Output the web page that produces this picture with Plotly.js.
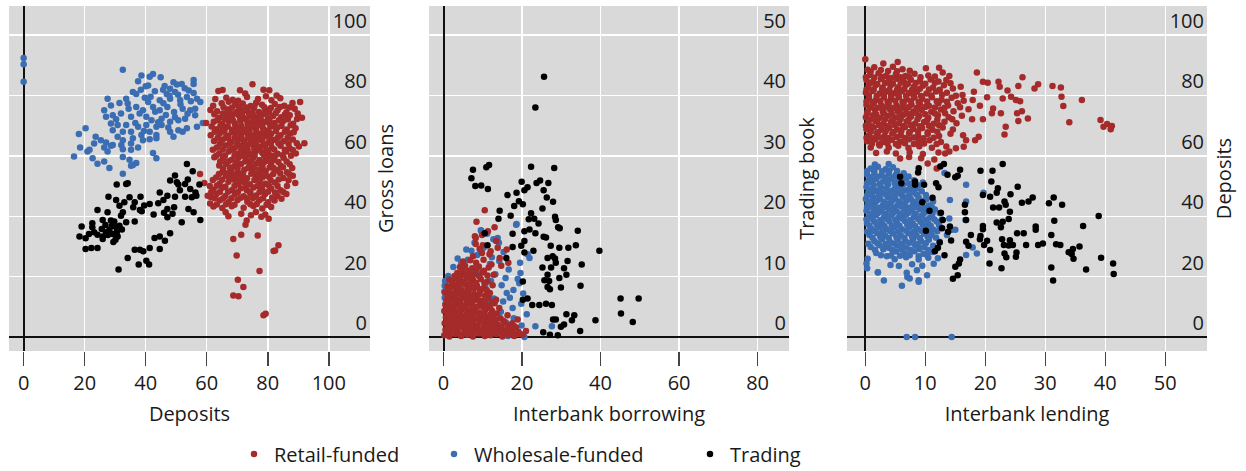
<!DOCTYPE html>
<html>
<head>
<meta charset="utf-8">
<script src="https://cdn.plot.ly/plotly-3.0.1.min.js"></script>
<style>html,body{margin:0;padding:0;background:#fff;}#chart{width:1246px;height:471px;}</style>
</head>
<body>
<div id="chart"></div>
<script>
// ---------- DATA ----------
const seriesNames = ["Retail-funded", "Wholesale-funded", "Trading"];
const xTitles = ["Deposits", "Interbank borrowing", "Interbank lending"];
const yTitles = ["Gross loans", "Trading book", "Deposits"];

// Panel 1: [deposits, gross loans]
const retailDepositsLoans = [
[75,83.7],[63.8,81.5],[70.9,81.7],[80.5,81.7],[82.9,80],[65.2,81.8],[78.6,81.9],[72.6,80.6],
[66.4,79.2],[68.5,78.6],[73.2,79.5],[76.8,78.8],[79.4,79.7],[81.2,78.4],[84.1,79.1],[70.3,78.2],[62.8,78.8],
[62.1,76.6],[64.9,77.4],[69.3,76.8],[71.8,77.3],[74.4,76.5],[76.2,77.6],[78.1,76.9],[82.3,77.2],[85.4,76.6],[88.1,77.5],[90.6,77.8],[67.2,77.9],
[63.4,74.8],[66.8,75.3],[69.9,74.6],[71.2,75.4],[73.3,74.9],[75.4,75.7],[77.1,74.5],[79.2,75.3],[80.4,74.7],[83.2,75.1],[86.1,74.4],[88.8,75.6],[61.2,75.2],
[64.2,72.6],[66.3,73.4],[68.1,72.8],[70.4,73.5],[72.2,72.5],[74.1,73.3],[76.3,72.7],[78.2,73.6],[80.1,72.4],[81.7,73.2],[84.4,72.8],[87.2,73.4],[91.2,72.6],[67.5,74.1],[73.8,74.2],[79.7,74.0],
[59.8,70.9],[62.3,71.3],[65.1,70.6],[67.3,71.5],[69.2,70.8],[71.1,71.6],[73.4,70.7],[75.2,71.4],[77.3,70.5],[79.1,71.2],[82.2,70.9],[85.1,71.5],[88.3,70.6],[83.6,71.8],[76.4,71.9],
[63.1,68.8],[66.2,69.4],[68.3,68.6],[70.2,69.3],[72.1,68.7],[74.3,69.5],[76.1,68.9],[78.4,69.2],[80.2,68.5],[83.1,69.4],[86.2,68.7],[89.1,69.1],[81.6,69.8],[69.4,70.1],
[61.3,66.8],[64.2,67.3],[67.1,66.6],[69.3,67.4],[71.2,66.9],[73.3,67.5],[75.1,66.7],[77.4,67.2],[79.2,66.6],[81.1,67.3],[84.2,66.8],[87.3,67.4],[72.5,68],[78.6,68.1],[65.8,68.0],
[62.4,64.9],[65.2,65.3],[68.1,64.6],[70.3,65.4],[72.2,64.8],[74.4,65.5],[76.2,64.7],[78.1,65.2],[80.3,64.6],[82.2,65.3],[85.1,64.8],[88.2,65.4],[92,64.2],[67.0,65.9],[76.8,65.9],
[63.3,62.8],[66.1,63.4],[69.2,62.7],[71.1,63.3],[73.2,62.6],[75.3,63.4],[77.2,62.9],[79.1,63.5],[81.3,62.7],[84.2,63.3],[87.1,62.6],[90.2,63.1],[70.0,64.0],[74.2,64.1],
[64.1,60.8],[67.2,61.4],[70.1,60.7],[72.3,61.3],[74.2,60.6],[76.1,61.5],[78.2,60.9],[80.1,61.2],[83.2,60.7],[86.1,61.4],[89.2,60.8],[68.6,62.0],[77.6,62.1],
[65.3,59.2],[68.2,58.7],[70.4,59.4],[73.1,58.8],[75.2,59.3],[77.3,58.6],[79.4,59.1],[82.1,58.7],[85.2,59.4],[71.8,60.0],[80.8,60.1],[62.5,59.5],
[64.1,56.8],[66.3,57.4],[69.1,56.6],[71.2,57.3],[74.1,56.7],[76.3,57.5],[78.2,56.9],[81.1,57.3],[84.3,56.6],[87.2,57.2],[72.6,58.1],[77.1,58.0],
[65.2,54.7],[68.1,55.3],[70.2,54.6],[72.3,55.4],[75.1,54.8],[77.2,55.5],[79.3,54.9],[83.2,55.2],[86.3,54.6],[73.6,56.0],[80.6,56.1],
[63.1,52.8],[66.2,53.4],[69.1,52.7],[71.3,53.3],[73.2,52.6],[76.1,53.5],[78.3,52.9],[80.2,53.2],[85.1,52.7],[88.2,53.4],[74.6,54.1],[67.8,54.0],
[59.2,51],[64.2,50.8],[67.1,51.4],[70.3,50.7],[72.2,51.3],[74.1,50.6],[77.3,51.4],[79.2,50.8],[82.3,51.2],[89,51],[75.6,52.0],[69,52.1],
[62.2,48.8],[65.1,49.4],[68.3,48.7],[71.2,49.3],[73.1,48.6],[75.3,49.5],[78.2,48.9],[81.1,49.2],[84.2,48.6],[76.6,50.0],
[60.3,46.8],[63.2,47.4],[66.1,46.7],[69.2,47.3],[72.1,46.6],[74.3,47.5],[76.2,46.9],[79.1,47.3],[83.2,46.7],[86.1,47.4],[61.3,46.4],
[61.1,44.2],[64.3,45.3],[67.2,44.7],[70.1,45.4],[73.3,44.8],[77.2,45.3],[80.1,44.6],[82.2,45.2],[75.2,46.0],
[62.2,43.2],[65.1,42.7],[68.2,43.3],[72.1,42.8],[75.3,43.4],[78.2,42.6],[81.1,43.1],
[66.2,41.3],[71.3,40.8],[76.1,41.4],[79.2,40.6],[80.3,39.2],[67.1,40],
[65.5,76.1],[68.2,75.9],[70.6,76.2],[73,76],[75.6,76.3],[78.9,76.1],[81,75.8],[84,76.2],[87,76],
[62.5,73.8],[65.3,74],[69.1,73.9],[71.6,74.1],[75.1,74],[77.6,73.9],[82.6,74.1],[85.6,73.7],[89.8,74],
[63.5,71.9],[66,72.1],[68.6,71.8],[71,72.1],[73.1,71.9],[75.3,72.2],[77.8,71.8],[80.5,72],[86.6,72.1],[89.6,72.2],
[61.6,69.7],[64.5,70],[66.9,69.8],[71.3,70],[73.5,69.9],[75.6,70.2],[78,70],[80.7,70.3],[84.5,69.9],[87.5,70.1],
[62.6,68],[64.9,68.1],[68.2,67.9],[70.4,68.2],[74,68.1],[76.3,68],[80.1,67.9],[82.7,68.2],[85.6,68],[88.5,67.8],
[63.6,66],[66.3,66.1],[69.2,65.9],[71.4,66.1],[73.6,66],[75.9,66.3],[78.3,66],[80.6,66],[83.4,66.2],[86.5,66],
[64.3,64],[67.5,64.1],[72.3,64],[76.2,64.1],[78.6,63.9],[81,64],[83.5,64.2],[86.8,64],[89.5,64.2],
[62,62],[65.2,62.1],[67.8,62.2],[71.3,62],[73.4,61.9],[75.6,62.2],[79.6,62],[82.1,62.1],[85.6,62],[88.2,61.9],
[63.1,60],[66,60.1],[69.1,60],[73.2,60.2],[75.7,60],[78.8,60.1],[82.4,60],[84.8,60.2],[87.6,60],
[64.4,58.1],[67.1,58.2],[69.8,57.9],[74.4,58],[78.9,58],[80.6,58.2],[83.5,58],[86.2,58.1],
[65.4,55.8],[67.6,56.1],[70.1,56],[75.4,56.1],[78.3,55.9],[81.9,56],[85,56.2],[88,56],
[64,54],[66.8,54.2],[69.6,53.9],[71.9,54.1],[76.8,54],[78.6,54.1],[81.8,54],[84.1,54.2],[87,54],
[62,52],[65,52.1],[67.6,52.3],[70.5,51.9],[72.6,52],[77.3,52.1],[80.9,52],[83.6,52.2],[86.8,51.9],
[61,50],[63.3,50.1],[66.1,49.8],[69.1,50],[73,50.1],[78.1,49.9],[80.4,50.1],[83.2,50],[86.3,50],
[61.5,48],[64.3,48],[67,48.1],[70.2,48],[74.2,48.1],[77.3,48],[80.1,48.1],[82.4,47.9],[85.1,48],
[62.6,46],[65.3,45.9],[68.1,46],[71.1,46.1],[73.2,45.9],[78.4,46],[81.4,46.1],[84.5,45.8],
[63.3,43.9],[66.3,44],[69.1,43.8],[74.3,44],[76.4,44.1],[79.6,43.8],
[57.8,54],[68.7,32.5],[71.3,33.9],[76.7,33.6],[69.8,27],[72.7,37.2],[73.1,38.6],[77.3,21.9],[70.2,19],[72,16.6],
[68.7,13.8],[70.4,13.5],[79.3,7.7],[78.6,7.2],[82.4,28.7],[83.5,30.4],[81.9,28.5],[77.9,39.8],[74.5,40.3]
];
const wholesaleDepositsLoans = [
[0,92.4],[0,90.3],[0,84.5],
[32.5,88.5],[38.6,86.6],[41.3,86.2],[42.4,87.1],[44.9,86],[37.5,84.7],[40,83],[40.8,83.3],[49.1,84.4],[50.2,83.6],[51.8,83.8],[55.7,85.1],[55.7,83.8],
[35.8,81.1],[36.9,80.5],[43,81.4],[45.7,81.9],[46.9,80.5],[48,82.2],[49.6,81.1],[54.1,81.6],[55.7,80.8],[33.6,78.9],[39.7,79.2],[40.8,77.8],[44.6,78.4],
[48,78.9],[51.3,78.4],[53.5,79.5],[56.8,78.9],[57.9,77.8],[27.5,78.9],[28.6,76.7],[31.4,77.5],[34.1,77.3],[36.9,76.2],[39.1,75.1],[42.4,76.2],[44.6,75.1],
[47.1,76.2],[49.3,74.5],[52.1,75.6],[54.6,75.1],[56.2,75.6],[26.4,75.1],[27,72.9],[29.2,73.4],[31.9,74],[35.2,72.9],[38,74],[40.2,72.9],[41.9,71.8],
[45.2,72.3],[48,71.3],[50.7,71.8],[52.9,72.3],[56.2,73.4],[58.7,70.9],[28.6,70.7],[30.8,70.2],[33.6,70.2],[37.5,69.6],[40.2,70.2],[43.5,69.6],[45.2,70.2],
[50.7,68.5],[53.5,69.1],[56.8,69.6],[29.2,68.5],[32.5,68],[35.2,68],[38.6,66.9],[41.3,68],[43.5,66.9],[48,68],[49.1,66.3],[52.1,68],[18.1,67.2],[20.3,69.1],
[23.6,66.3],[25.3,65.2],[30.8,66.3],[32.5,65.2],[35.8,65.8],[39.1,65.2],[41.3,65.5],[43.5,65.8],[23.1,64.1],[27,64.4],[29.2,63.6],[32,63.6],[35.2,64.1],
[37.5,62.8],[18.5,62.8],[21.6,62],[26.4,62.8],[28.6,63.3],[32.5,62.2],[35.2,62],[16.5,59.8],[20.9,61.4],[22.6,59.2],[27.5,61.4],[32.5,59.6],[34.7,58.7],
[35.8,57],[24.2,57.4],[26.4,58.1],[28.1,56],[42.4,60.9],[43.5,59.2],[32.5,54.1],[36.9,57.6],[35.2,56.7],
[46.2,83.1],[47.8,79.9],[50.6,80.2],[52.8,82.4],[54.8,78.1],[45.8,77.4],[43.1,74.6],[46.6,73.5],[49.6,72.8],[51.4,77.1],[53.7,73.9],[41.6,79.6],
[38.4,81.9],[44.1,71.1],[47.4,69.4],[39.4,68.2],[36.6,70.9],[34.4,75.6],[30.3,72.1]
];
const tradingDepositsLoans = [
[53.5,57.3],[55.4,54.9],[49.6,53.5],[34.1,50.9],[33.6,50.7],[30.5,50.5],[48,51.8],[50.2,51.3],[52.9,50.7],[50.7,50.5],[57.6,50.5],[54.6,49],
[56.3,47.9],[56.6,46.8],[44.6,47.9],[47.1,46.8],[49.6,46.5],[52.9,46.5],[55.1,46.3],[27.8,46.5],[34.7,46.3],[38.3,46.5],[30.3,45.4],[33,44.6],
[36.4,44.6],[31.4,43.5],[41.3,44.1],[44.1,44.3],[35.9,43],[38.1,42.1],[38.7,41.7],[47.1,42.4],[49.3,43],[54,42.4],[55.7,41.3],[24.2,42.1],
[27.5,41.3],[32.5,41.3],[31.9,40.2],[47.1,39.7],[48.8,40.8],[57.9,38.8],[51.8,38],[36.4,38.3],[33.6,38],[25.9,38.8],[28.6,38.6],[29.7,38.3],
[31.4,36.9],[30.3,36.4],[22.5,37.7],[22.5,36.4],[19,36.6],[25.6,35.8],[27,34.7],[23.1,34.7],[24.2,33.9],[28.1,35.5],[29.2,34.1],[30.5,34.7],
[30.8,33.3],[25.9,33.3],[25.9,32.5],[18.3,33.3],[20.3,32.7],[30.1,32.2],[48,34.4],[44.6,33.3],[42.9,32.8],[46.3,31.9],[41.3,29.5],[44.6,29.2],
[20.3,29.2],[22.2,29.5],[24.2,29.5],[36.4,28.9],[38.1,28.9],[39.2,28.4],[34.1,26.2],[40.2,25.3],[41.1,24],[37.7,24],[31.1,22.4],
[26.8,37.1],[28.9,36.8],[27.6,33.8],[29.4,31.5],[32.2,35.6],[21.4,34.1],[39.5,43.6],[45.8,45.4],[51.2,48.6],[53.8,52.2],[42.6,40.6],[46,41.2]
];

// Panel 2: [interbank borrowing, trading book]
const retailBorrowingTrading = [
[0.2,0.3],[1.5,0.1],[3,0.5],[4.5,0.2],[6,0.4],[7.5,0.1],[9,0.6],[10.5,0.2],[12,0.3],[13.5,0.5],[15,0.1],[16.5,0.4],[18,0.2],[19.5,0.5],[21,1],[20.2,0.4],
[0.5,1.2],[2,1.4],[3.5,1.1],[5,1.5],[6.5,1.2],[8,1.3],[9.5,1.0],[11,1.4],[12.5,1.2],[14,1.5],[15.5,1.1],[17,1.3],[18.5,1.6],
[0.3,2.3],[1.8,2.1],[3.3,2.5],[4.8,2.2],[6.3,2.4],[7.8,2.0],[9.3,2.6],[10.8,2.2],[12.3,2.4],[13.8,2.1],[15.5,2.5],[17.5,2.3],[18.9,2.9],
[0.6,3.3],[2.1,3.1],[3.6,3.5],[5.1,3.2],[6.6,3.4],[8.1,3.0],[9.6,3.6],[11.1,3.2],[12.6,3.4],[14.5,3.1],[16.3,3.6],
[0.2,4.3],[1.7,4.5],[3.2,4.1],[4.7,4.6],[6.2,4.2],[7.7,4.4],[9.2,4.0],[10.7,4.5],[12.4,4.3],[14.2,4.8],
[0.5,5.3],[2,5.1],[3.5,5.5],[5,5.2],[6.5,5.6],[8,5.0],[9.5,5.4],[11,5.2],[13,5.6],
[0.8,6.3],[2.3,6.5],[3.8,6.1],[5.3,6.6],[6.8,6.2],[8.3,6.4],[9.8,6.0],[11.5,6.5],[13.4,6.2],
[0.4,7.4],[1.9,7.2],[3.4,7.6],[4.9,7.3],[6.4,7.5],[7.9,7.1],[9.4,7.7],[11.8,7.3],
[1,8.4],[2.5,8.6],[4,8.2],[5.5,8.7],[7,8.3],[8.5,8.5],[10.2,8.1],[12.5,8.6],
[1.5,9.5],[3,9.7],[4.5,9.3],[6,9.8],[7.5,9.4],[9.5,9.6],[11.2,9.2],
[3.5,10.6],[5,10.4],[6.5,10.8],[8,10.5],[10,10.7],[12.8,10.3],
[4.2,11.6],[5.5,11.8],[7.3,11.4],[9,11.7],[11.5,11.5],[14.7,11.8],
[5,12.5],[6.8,12.7],[8.3,12.3],[10.2,12.8],[12.2,12.0],
[7.5,13.4],[9.8,13.9],[11.7,13.7],[14.3,13.1],
[9.2,14.6],[13.8,14.8],[16.1,14.5],[12,14.2],[10,15.2],
[0.9,0.7],[2.4,0.8],[3.9,0.6],[5.4,0.9],[6.9,0.7],[8.4,0.8],[9.9,0.6],[11.4,0.9],[12.9,0.7],[14.4,0.9],[16,0.7],[17.5,0.8],[19.1,0.9],
[1.1,1.8],[2.7,1.7],[4.2,1.9],[5.7,1.7],[7.2,1.8],[8.7,1.8],[10.2,1.7],[11.7,1.9],[13.2,1.8],[14.8,1.7],[16.4,1.9],[18,1.8],
[1.2,2.8],[2.7,2.7],[4.2,2.9],[5.7,2.8],[7.2,2.7],[8.7,2.9],[10.2,2.8],[11.7,2.7],[13.3,2.9],[15.2,2.7],
[1.3,3.8],[2.8,3.7],[4.3,3.9],[5.8,3.8],[7.3,3.7],[8.8,3.9],[10.3,3.8],[11.9,3.7],[13.6,3.9],
[1.1,4.9],[2.6,4.8],[4.1,5],[5.6,4.9],[7.1,4.8],[8.6,5],[10.1,4.9],[11.9,4.8],
[1.3,5.9],[2.8,5.8],[4.3,6],[5.9,5.9],[7.4,5.8],[8.9,6],[10.5,5.9],[12.3,5.8],
[1.5,6.9],[3,6.8],[4.5,7],[6,6.9],[7.5,6.8],[9,7],[10.6,6.9],
[1.4,7.9],[3,8],[4.6,7.8],[6.1,7.9],[7.7,8],[9.2,7.9],[11,7.8],
[2.2,9],[3.8,9],[5.3,9.1],[6.8,8.9],[8.3,9],[10.4,9],
[2.8,10.1],[4.3,10],[5.8,10.1],[7.3,9.9],[9,10.1],[11.2,10.2],
[4.8,11.1],[6.3,11],[8.2,11.1],[10.3,11],
[10.5,21],[8.4,19.1],[8,16.7],[8.2,16.4],[13,18.2],[13.4,15.9],[16.5,12.3],[9.8,16.9],[11.3,17.5],[8.2,15.4]
];
const wholesaleBorrowingTrading = [
[18.5,18.6],[9.6,17.6],[11.1,17.1],[13.8,16.4],[5.8,14.5],[7.1,14.3],[3.6,13],[21.4,13.7],[21.9,13.1],[19.5,12.3],[16.6,11.2],[18.9,9.6],
[19.3,8.9],[15.8,9.8],[16.1,7.3],[16.9,6.5],[19.8,5.5],[17.6,4.8],[21.2,3.8],[23.4,1.8],[27.6,1.8],[20.6,0],[0.3,8.5],[0.3,6.5],[0.2,7.5],
[0.5,5.5],[0.4,9.3],[1.2,10.1],[2.5,11.6],[4.5,12.3],[6.2,12.8],[8.6,13.6],[10.2,14.8],[12.3,13.2],[14.2,12.6],[15.3,14.1],[13.2,10.4],
[14.8,8.6],[12.8,6.4],[14.6,4.2],[15.9,2.4],[17.3,1.2],[18.6,0.5],[16.4,0.2],[13.4,0.8],[11.2,5.6],[10.6,8.6],[12.1,9.3],[15.2,5.9],
[17.8,7.8],[19.6,10.6],[20.3,7.2],[17.9,3.1],[19.9,1.9],[8.1,11.4],[6.7,10.5],[3.9,8.6],[2.1,6.9],[1.4,3.8],[11.8,12.1],[9.2,10.8],
[14.1,15.6],[12.7,16.2],[7.9,15.6],[18.6,18.7],[9.5,17.7]
];
const tradingBorrowingTrading = [
[25.6,43.1],[23.4,38],[7.5,27.7],[10.9,28.1],[11.6,28.5],[7.1,26.3],[8.1,25],[9.6,25.1],[11.3,24.5],[22.3,28.2],[28.2,28],[19.9,25.7],
[21.4,24.8],[20.6,24.3],[23.7,25.5],[24.6,25.9],[26.7,25.5],[25.5,24.3],[27.9,22.4],[26.3,23.1],[18.6,23.9],[16.3,23.5],[19.2,22.5],[20.2,22],
[18,21.7],[25.2,21.3],[14.3,20.9],[14,19.6],[17.1,20.1],[22.3,20.5],[21.7,19.5],[23.1,19.6],[28.4,19.9],[28.6,19.4],[24.2,18.8],[21.9,17.8],
[23.4,17.2],[29.2,18.2],[29.6,18],[34.2,17.6],[17.6,17.1],[20.6,17.5],[25.5,16.6],[26.1,16.5],[20.6,15.9],[17.6,14.9],[19.8,15.1],[22.9,14.3],
[20.6,14],[27.3,15.1],[29.5,14.8],[31.8,14.8],[33.7,15.2],[39.7,14.3],[26.5,13.1],[27.8,13.4],[28.4,13],[31.6,12.6],[35.2,12],[25.2,11.5],
[27.4,11.5],[28.6,12.3],[30.7,11.4],[26.5,10.3],[25.7,9.4],[31.3,10.3],[26.9,9.3],[29.5,9.8],[29.9,8.2],[26.5,8.3],[27.1,7.9],[34.9,8.5],
[20.2,6.2],[21.4,6.4],[22.6,5.3],[24.4,5.3],[26.1,5.5],[27.6,5.3],[45.1,6.4],[49.7,6.4],[45.2,3.9],[48.2,2.5],[38.7,2.8],[31.3,3.8],
[33.3,3.6],[32.7,2.8],[27.9,2.9],[28.6,2.9],[30.7,2.1],[29.9,1.7],[25.4,0.8],[27.1,0.4],[29.1,0.3],[34.8,1],[10.5,17.2],[16,13.1],[20.2,9.2],[11.2,15.2]
];

// Panel 3: [interbank lending, deposits]
const retailLendingDeposits = [
[0,92],[5.4,91.1],[3,90.6],[10.1,89],[12.3,89.2],[0.4,88.5],[1.5,89.3],[3.8,88.1],[6.2,88.7],[4.6,89.5],
[12.9,87.6],[18.6,87.6],[0.8,86.8],[2.2,87.3],[3.5,86.5],[5.1,87.1],[6.7,86.4],[8.2,87.2],[14,86.4],[10.5,86.6],
[0.2,85.1],[1.3,84.6],[2.6,85.4],[3.9,84.8],[5.2,85.5],[6.4,84.5],[7.6,85.2],[9.1,84.7],[10.9,85.3],[12.2,84.6],[13.5,85.1],
[0.5,82.8],[1.7,83.4],[2.9,82.6],[4.2,83.3],[5.5,82.7],[6.8,83.5],[8.1,82.9],[9.6,83.2],[11.3,82.6],[13.1,83.4],[15.9,82.9],[19.6,84.5],[20.4,84.2],
[22.2,84.5],[22.4,82.9],[25.5,83.1],[26.2,86],[28.2,82.3],[28.8,83.7],[31.2,83.1],[32.6,82.6],
[0.1,80.9],[1.2,81.5],[2.4,80.6],[3.6,81.3],[4.8,80.7],[6.1,81.4],[7.3,80.8],[8.6,81.2],[10.2,80.6],[11.8,81.3],[13.6,80.9],[16.2,80.1],[23.7,81.6],[18.1,81.2],
[0.6,79.2],[1.8,78.6],[3.1,79.4],[4.3,78.8],[5.6,79.5],[6.9,78.7],[8.2,79.3],[9.5,78.9],[11.1,79.4],[12.7,78.6],[14.4,79.2],[17.9,78.5],[22.9,79],
[24.3,79.6],[25.1,78.5],[25.8,78.1],[32.7,79.6],[36.1,78.5],[20.3,79.4],
[0.2,76.8],[1.4,77.4],[2.7,76.6],[3.9,77.3],[5.2,76.7],[6.4,77.5],[7.7,76.9],[9.1,77.2],[10.6,76.6],[12.2,77.4],[13.8,76.7],[15.4,77.4],[19.1,76.6],[33,76.5],
[0.4,74.7],[1.6,75.3],[2.9,74.6],[4.1,75.4],[5.4,74.8],[6.7,75.5],[8,74.7],[9.4,75.2],[11,74.6],[12.6,75.3],[14.7,74.8],[17.2,75.4],[21.3,75.7],
[21.1,74.1],[22.6,74.1],[25.3,74.1],[26.1,74.8],
[0.1,72.8],[1.3,73.4],[2.5,72.6],[3.8,73.3],[5.1,72.7],[6.3,73.5],[7.6,72.9],[9,73.2],[10.5,72.6],[12.1,73.4],[13.9,72.8],[16.1,73.3],[17.8,72.1],[19.6,72.1],[27.1,72.4],
[0.5,70.9],[1.7,71.5],[3,70.6],[4.3,71.3],[5.6,70.8],[6.9,71.4],[8.3,70.7],[9.8,71.2],[11.4,70.6],[13.2,71.3],[15.2,70.8],[25.5,71.5],[34,71.1],[39.2,71.9],
[0.2,68.8],[1.4,69.4],[2.7,68.6],[4,69.3],[5.3,68.7],[6.6,69.5],[8,68.9],[9.5,69.2],[11.2,68.6],[12.9,69.4],[14.6,68.7],[23.4,69.6],[39.7,69.6],[40.3,70.5],[41.1,69.9],[40.9,68.8],
[0.6,66.7],[1.9,67.3],[3.2,66.6],[4.5,67.4],[5.9,66.8],[7.3,67.5],[8.8,66.7],[10.4,67.2],[12.3,66.6],[14.2,67.3],[16.3,66.8],[23.2,67.1],[18.9,66.3],
[0.3,64.8],[1.6,65.4],[3,64.6],[4.4,65.3],[5.8,64.7],[7.3,65.5],[8.9,64.9],[10.7,65.2],[12.6,64.6],[16.8,65.2],[18.3,65.2],
[0.9,62.8],[2.4,63.4],[3.9,62.7],[5.5,63.3],[7.2,62.6],[9,63.2],[11.1,62.7],[13.5,63.1],[16.4,63],[15.1,62.5],
[1.8,60.9],[3.6,61.4],[5.1,60.8],[7.4,61.2],[9.6,60.6],[12.2,61.1],[14,61.4],[13.3,60.8],
[5.8,59.1],[9.3,59.2],[11.5,58.8],[7.3,59.6],[10.4,57.5],[11.9,55.8],
[0.9,87.9],[2.6,88.4],[5.3,88],[7.4,88.2],
[0.1,86],[1.5,85.9],[2.9,86.1],[4.3,85.8],[5.9,86],[7.3,86.1],[9.2,86],[11.6,86.3],
[0.7,84],[2,83.8],[3.3,84.1],[4.6,83.9],[5.9,84.2],[7.1,83.9],[8.4,84.1],[10,83.9],[11.6,84.2],[14.2,84],
[0.2,82],[1.4,81.9],[2.8,82.1],[4,81.8],[5.3,82],[6.5,82.1],[7.8,81.9],[9.1,82.2],[10.6,82],[12.4,81.9],[14.6,82.3],
[0.6,80],[1.9,79.8],[3.1,80.1],[4.3,79.9],[5.5,80.2],[6.8,79.9],[8,80.1],[9.3,79.8],[11,80],[12.8,80.2],[15.1,79.9],
[0.2,78],[1.2,77.8],[2.5,78.1],[3.7,77.9],[5,78.2],[6.2,77.9],[7.6,78.1],[8.9,77.8],[10.3,78],[11.9,78.1],[13.6,77.9],[16.4,78.2],
[0.9,76],[2.1,75.9],[3.4,76.1],[4.6,75.8],[5.9,76],[7.2,76.1],[8.6,75.9],[10,76.2],[11.6,76],[13.2,75.9],[15.8,76.1],
[0.3,74],[1.8,73.8],[3.1,74.1],[4.4,73.9],[5.8,74.2],[7.1,73.9],[8.5,74.1],[10,73.8],[11.6,74],[13.3,74.1],
[0.8,72],[2,71.8],[3.3,72.1],[4.6,71.9],[5.9,72.2],[7.2,71.9],[8.7,72.1],[10.3,71.8],[12,72],[14.5,72.1],
[0.1,70],[1.1,69.8],[2.3,70.1],[3.6,69.9],[4.9,70.2],[6.3,69.9],[7.6,70.1],[9.1,69.8],[10.6,70],[12.3,70.1],
[0.9,68],[2.1,67.8],[3.4,68.1],[4.7,67.9],[6,68.2],[7.4,67.9],[8.8,68.1],[10.4,67.8],[12,68],
[0.2,66],[1.2,65.8],[2.4,66.1],[3.8,65.9],[5.2,66.2],[6.6,65.9],[8.1,66.1],[9.7,65.8],[11.4,66],
[1.1,64],[2.3,63.8],[3.7,64.1],[5.1,63.9],[6.6,64.2],[8.1,63.9],[9.8,64.1],[11.9,63.9]
];
const wholesaleLendingDeposits = [
[0.9,55.8],[2.1,56.4],[3.4,55.6],[4.6,56.2],[1.6,57.1],[3.9,57.3],
[0.3,53.8],[1.5,54.4],[2.7,53.6],[3.9,54.3],[5.1,53.7],[6.4,54.2],[13.2,54.3],
[0.6,51.8],[1.8,52.4],[3.0,51.6],[4.3,52.3],[5.5,51.7],[6.8,52.5],[8.1,51.9],
[0.2,49.7],[1.4,50.3],[2.6,49.6],[3.8,50.4],[5.1,49.8],[6.3,50.5],[7.6,49.7],[8.9,50.2],[16.8,50.4],
[0.5,47.8],[1.7,48.4],[2.9,47.6],[4.2,48.3],[5.4,47.7],[6.7,48.5],[8.0,47.9],[9.4,48.3],[19.7,47.8],
[0.1,45.7],[1.3,46.3],[2.5,45.6],[3.8,46.4],[5.0,45.8],[6.3,46.5],[7.6,45.7],[8.9,46.2],[10.2,45.6],[14.1,45.4],
[0.4,43.8],[1.6,44.4],[2.9,43.6],[4.1,44.3],[5.4,43.7],[6.6,44.4],[7.9,43.8],[9.2,44.2],[10.6,43.6],[16.8,44.9],
[0.2,41.8],[1.5,42.4],[2.7,41.6],[4.0,42.3],[5.2,41.7],[6.5,42.4],[7.8,41.8],[9.1,42.3],[10.4,41.7],[11.6,42.2],
[0.6,39.8],[1.8,40.4],[3.1,39.6],[4.3,40.3],[5.6,39.7],[6.8,40.5],[8.1,39.8],[9.4,40.2],[10.8,39.6],[14,39.3],[16.7,38.8],
[0.3,37.7],[1.5,38.3],[2.8,37.6],[4.0,38.4],[5.3,37.8],[6.6,38.4],[7.9,37.7],[9.2,38.2],[10.5,37.6],[11.9,38.3],
[1.0,35.8],[2.3,36.4],[3.6,35.6],[4.8,36.3],[6.1,35.7],[7.4,36.5],[8.7,35.8],[10.0,36.3],[11.3,35.6],[12.6,36.2],[14.4,35.5],[15,35.5],
[0.7,33.8],[2.0,34.4],[3.3,33.6],[4.6,34.3],[5.9,33.7],[7.2,34.4],[8.5,33.8],[9.8,34.2],[11.1,33.7],[13.6,33.8],
[1.5,31.8],[2.8,32.4],[4.1,31.6],[5.4,32.3],[6.7,31.7],[8.0,32.4],[9.3,31.8],[10.6,32.2],[12.4,31.6],
[0.9,29.8],[2.4,30.4],[3.9,29.6],[5.3,30.3],[6.8,29.7],[8.3,30.5],[9.8,29.8],[11.3,30.2],[17.9,29.7],
[1.8,27.8],[3.6,26.8],[5.1,28.3],[6.6,27.7],[8.2,28.4],[9.7,27.6],[11.2,28.2],[18.6,27.7],[16.8,27.2],
[0.4,25.9],[4.9,25.8],[6.8,26.4],[8.9,25.7],[10.5,26.3],[12.1,26.1],
[0.2,24.4],[4.2,23.9],[5.6,23.5],[7.8,24.1],[9.5,23.6],[11.4,24.3],
[0.3,22.8],[2.1,21.4],[6.9,21.3],[8.6,22.1],[10.3,20.5],
[7.4,19.4],[8.9,18.3],[3.1,18.7],[6.1,17],[7,19.9],[8.9,18.8],[2.1,21.5],
[0.3,55],[1.5,55.2],[2.8,54.9],[4,55.1],[5.3,55],
[0.9,52.9],[2.1,53.1],[3.4,52.8],[4.7,53],[5.9,52.9],[7.2,53.2],
[0.3,50.9],[1.2,51.1],[2.4,50.8],[3.6,51],[4.9,50.9],[6.1,51.2],[7.3,50.8],[9.6,51.2],
[1.1,49],[2.3,48.8],[3.5,49.1],[4.8,48.9],[6,49.1],[7.2,48.8],[8.5,49.2],
[0.3,46.9],[1.1,47.1],[2.3,46.8],[3.5,47],[4.7,46.9],[6,47.2],[7.3,46.8],[8.6,47.1],[10.1,47],
[0.8,44.9],[1.9,45.1],[3.2,44.8],[4.4,45],[5.7,44.9],[6.9,45.2],[8.3,44.8],[9.7,45.1],[11.3,44.9],
[0.3,42.9],[1.1,43.1],[2.3,42.8],[3.5,43],[4.8,42.9],[6,43.2],[7.2,42.8],[8.6,43.1],[9.9,42.9],[11.1,43],
[1,40.9],[2.1,41.1],[3.4,40.8],[4.6,41],[5.9,40.9],[7.2,41.2],[8.4,40.8],[9.8,41.1],[11.2,40.9],[12.4,41],
[0.2,38.9],[1.2,39.1],[2.5,38.8],[3.7,39],[5,38.9],[6.2,39.2],[7.5,38.8],[8.8,39.1],[10.1,38.9],[11.5,39],[12.8,38.9],
[0.7,36.9],[1.9,37.1],[3.2,36.8],[4.4,37],[5.7,36.9],[7,37.2],[8.3,36.8],[9.6,37.1],[10.9,36.9],[12.3,37],
[0.3,34.9],[1.5,35.1],[2.9,34.8],[4.2,35],[5.5,34.9],[6.8,35.2],[8,34.8],[9.4,35.1],[10.7,34.9],[12,35],
[1.2,32.9],[2.5,33.1],[3.9,32.8],[5.2,33],[6.5,32.9],[7.8,33.2],[9.1,32.8],[10.4,33.1],[11.8,32.9],
[0.5,30.9],[2,31.1],[3.4,30.8],[4.7,31],[6.1,30.9],[7.4,31.2],[8.8,30.8],[10.1,31.1],
[1.6,28.9],[3,29.1],[4.5,28.8],[6,29],[7.5,28.9],[9,29.2],[10.5,28.8],
[2.6,27.1],[4.3,27],[5.8,26.9],[7.4,27.1],[8.9,26.8],[10.3,27.2],
[6.9,0],[8.3,0],[14.4,0]
];
const tradingLendingDeposits = [
[22.9,57.3],[19.2,55.1],[21.2,55.1],[15.8,55.4],[15.4,53.4],[15,52.9],[12.5,56.5],[13.1,57.3],[8.9,55.9],[8.8,54.5],[13.7,53.7],[5.8,53.1],
[6,50.9],[8.3,51.5],[8.3,50.4],[9.8,50.4],[11.8,50.9],[12.2,49.6],[21,51.5],[22.1,49.3],[21.9,47.8],[25.4,49.8],[24.2,47.3],[19.6,47],
[20.8,46.5],[23.2,44.9],[23.4,43.8],[21.3,42.9],[22.3,42.9],[26.1,44.5],[27.2,44.9],[27.9,46.2],[30.6,44.3],[31.4,46.2],[32.8,43.8],[24.1,41.5],
[23.9,39.1],[21.9,37.9],[22.9,38.2],[22.6,36.4],[16.6,43.8],[16.6,41.3],[16.8,38.8],[12.6,41.2],[12.9,38.8],[12.8,36],[14.1,36.6],[13.8,34.9],
[10.7,41.8],[31.5,38.5],[38.9,40.1],[36.3,36.8],[28.4,36.6],[28.4,35.5],[25.3,34.4],[26.4,34.4],[31,33.8],[19.6,36.8],[19.6,35.7],[17.6,33.8],
[19.2,33.5],[19.1,32.4],[20.3,31.9],[19.8,30.5],[22.8,32.4],[24.1,32.1],[23.1,30.5],[23.9,30.3],[24.6,30.5],[26.8,30.5],[28.8,30.5],[29.6,31],
[31.8,30.7],[32.5,30.5],[34.6,29.2],[35.7,30],[33.9,28.1],[34.4,27.5],[34.7,25.9],[23.2,27.7],[25.2,28],[25.1,26.6],[23.5,26.4],[20.8,28.8],
[17.2,30.2],[16.8,31.6],[15.8,25.7],[15.6,24.4],[15,23.3],[15.4,20.5],[14.6,19.3],[20.7,24.4],[22.7,22.8],[31,23],[31.3,18.7],[36.8,22.4],
[39.3,26.3],[41.3,24.4],[41.4,20.9],[12.4,31.3],[14.3,32],[11.2,46.1],[9.5,44.6],[10.1,35.2],[11.6,28.4],[13.2,27.1],[12.1,29.6]
];

const colors = ["#a52a2a", "#3b6db3", "#000000"];

// ---------- TRACES ----------
const panels = [
  {xa: "x",  ya: "y",  sets: [retailDepositsLoans, wholesaleDepositsLoans, tradingDepositsLoans]},
  {xa: "x2", ya: "y2", sets: [retailBorrowingTrading, wholesaleBorrowingTrading, tradingBorrowingTrading]},
  {xa: "x3", ya: "y3", sets: [retailLendingDeposits, wholesaleLendingDeposits, tradingLendingDeposits]}
];
const drawOrder = [1, 0, 2];
const legendIds = ["legend", "legend2", "legend3"];
const traces = [];
panels.forEach((p, pi) => {
  drawOrder.forEach(si => {
    const pts = p.sets[si];
    traces.push({
      type: "scatter", mode: "markers",
      x: pts.map(d => d[0]), y: pts.map(d => d[1]),
      xaxis: p.xa, yaxis: p.ya,
      name: seriesNames[si],
      legend: legendIds[si],
      showlegend: pi === 0,
      marker: {color: colors[si], size: 6.5, line: {width: 0}},
      hoverinfo: "x+y"
    });
  });
});

// ---------- LAYOUT ----------
const W = 1246, H = 471;
const ml = 9, mr = 39, mt = 6, mb = 120;
const pw = W - ml - mr, ph = H - mt - mb;
const dom = (a, b) => [(a - ml) / pw, (b - ml) / pw];
const legY = (351 - 454) / ph;

const axFont = {family: "Open Sans, Noto Sans, sans-serif", size: 20, color: "#1a1a1a"};
const xCommon = {
  showgrid: true, gridcolor: "#ffffff", gridwidth: 1.5,
  zeroline: true, zerolinecolor: "#111111", zerolinewidth: 2,
  showline: false, ticks: "outside", ticklen: 14, tickwidth: 1.5, tickcolor: "#444",
  tickfont: axFont, automargin: false, fixedrange: true
};
const yCommon = {
  showgrid: true, gridcolor: "#ffffff", gridwidth: 1.5,
  zeroline: true, zerolinecolor: "#111111", zerolinewidth: 2,
  showline: false, ticks: "", side: "right",
  ticklabelposition: "inside top",
  tickfont: axFont, automargin: false, fixedrange: true, domain: [0, 1]
};
const legCommon = {orientation: "h", xanchor: "left", yanchor: "middle", y: legY,
  font: axFont, bgcolor: "rgba(0,0,0,0)", borderwidth: 0};

const layout = {
  width: W, height: H,
  margin: {l: ml, r: mr, t: mt, b: mb, pad: 0, autoexpand: false},
  paper_bgcolor: "#ffffff", plot_bgcolor: "#d9d9d9",
  font: axFont,
  xaxis:  Object.assign({}, xCommon, {domain: dom(9, 370),   range: [-4.8, 113.5], dtick: 20, anchor: "y",
           title: {text: xTitles[0], font: axFont, standoff: 11}}),
  xaxis2: Object.assign({}, xCommon, {domain: dom(429, 789), range: [-3.7, 88],    dtick: 20, anchor: "y2",
           title: {text: xTitles[1], font: axFont, standoff: 11}}),
  xaxis3: Object.assign({}, xCommon, {domain: dom(847, 1207), range: [-3.05, 56.95], dtick: 10, anchor: "y3",
           title: {text: xTitles[2], font: axFont, standoff: 11}}),
  yaxis:  Object.assign({}, yCommon, {range: [-4.6, 109.6], dtick: 20, anchor: "x",
           title: {text: yTitles[0], font: axFont, standoff: 12}}),
  yaxis2: Object.assign({}, yCommon, {range: [-2.3, 54.8], dtick: 10, anchor: "x2",
           title: {text: yTitles[1], font: axFont, standoff: 14}}),
  yaxis3: Object.assign({}, yCommon, {range: [-4.6, 109.6], dtick: 20, anchor: "x3",
           title: {text: yTitles[2], font: axFont, standoff: 13}}),
  legend:  Object.assign({}, legCommon, {x: (234 - ml) / pw}),
  legend2: Object.assign({}, legCommon, {x: (434 - ml) / pw}),
  legend3: Object.assign({}, legCommon, {x: (690 - ml) / pw}),
  hovermode: "closest"
};

Plotly.newPlot("chart", traces, layout, {displayModeBar: false, staticPlot: true});
</script>
</body>
</html>
